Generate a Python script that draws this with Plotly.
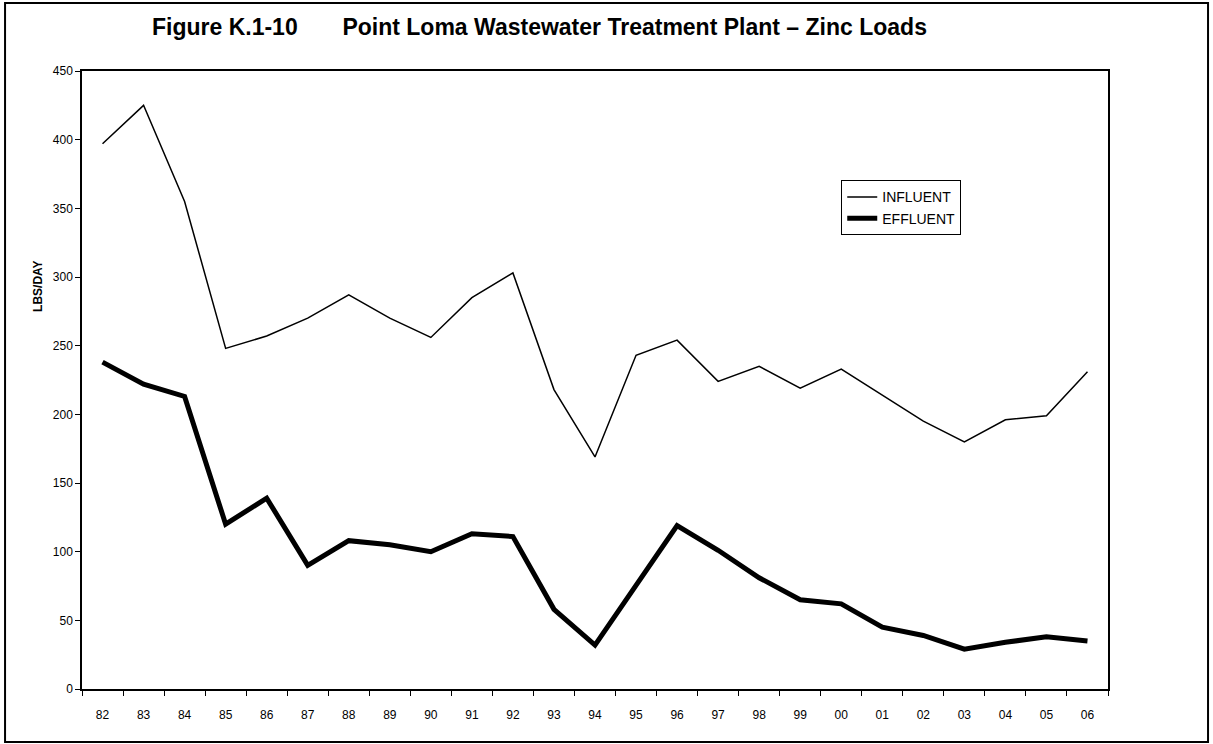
import plotly.graph_objects as go

# years along the x axis (two digit labels as in the report)
years = ["82", "83", "84", "85", "86", "87", "88", "89", "90", "91", "92", "93",
         "94", "95", "96", "97", "98", "99", "00", "01", "02", "03", "04", "05", "06"]

# zinc loads, lbs/day
influent = [397, 425, 355, 248, 257, 270, 287, 270, 256, 285, 303, 218,
            169, 243, 254, 224, 235, 219, 233, 214, 195, 180, 196, 199, 231]
effluent = [238, 222, 213, 120, 139, 90, 108, 105, 100, 113, 111, 58,
            32, 75, 119, 101, 81, 65, 62, 45, 39, 29, 34, 38, 35]

yticks = [0, 50, 100, 150, 200, 250, 300, 350, 400, 450]

fnt = "Liberation Sans, Arial, sans-serif"

fig = go.Figure()

fig.add_trace(go.Scatter(
    x=years, y=influent, mode="lines", name="INFLUENT",
    line=dict(color="black", width=1.5)
))
fig.add_trace(go.Scatter(
    x=years, y=effluent, mode="lines", name="EFFLUENT",
    line=dict(color="black", width=5)
))

fig.update_layout(
    width=1213, height=744,
    paper_bgcolor="white", plot_bgcolor="white",
    margin=dict(l=82, r=105, t=71, b=55),
    font=dict(family=fnt, color="black"),
    showlegend=True,
    legend=dict(
        x=0.74, y=0.823, xanchor="left", yanchor="top",
        bordercolor="black", borderwidth=1, bgcolor="white",
        font=dict(size=14, family=fnt),
        tracegroupgap=0, itemwidth=30
    ),
    annotations=[
        dict(text="<b>Figure K.1-10" + "\u00a0" * 7 + "Point Loma Wastewater Treatment Plant – Zinc Loads</b>",
             xref="paper", yref="paper", x=0.066, y=1.071,
             xanchor="left", yanchor="middle", showarrow=False,
             font=dict(size=23, family=fnt)),
        dict(text="<b>LBS/DAY</b>", xref="paper", yref="paper",
             x=-0.043, y=0.652, textangle=-90, showarrow=False,
             xanchor="center", yanchor="middle", font=dict(size=12, family=fnt)),
    ],
    shapes=[
        dict(type="rect", xref="paper", yref="paper",
             x0=-0.075, x1=1.0975, y0=-0.0858, y1=1.11,
             line=dict(color="black", width=2))
    ]
)

fig.update_xaxes(
    type="category", range=[-0.5, 24.5],
    showline=True, linecolor="black", linewidth=1.5, mirror=True,
    showgrid=False, ticks="outside", ticklen=5, tickcolor="black",
    tickson="boundaries", ticklabelstandoff=14,
    tickfont=dict(size=12, family=fnt)
)
fig.update_yaxes(
    range=[0, 450], tickvals=yticks,
    showline=True, linecolor="black", linewidth=1.5, mirror=True,
    showgrid=False, zeroline=False, ticks="outside", ticklen=5, tickcolor="black",
    tickfont=dict(size=12, family=fnt)
)

# the page body has a default 8px margin; drop it so the figure sits at 0,0
fig.write_html("out.html", config={"displayModeBar": False},
               post_script="document.body.style.margin='0';")
